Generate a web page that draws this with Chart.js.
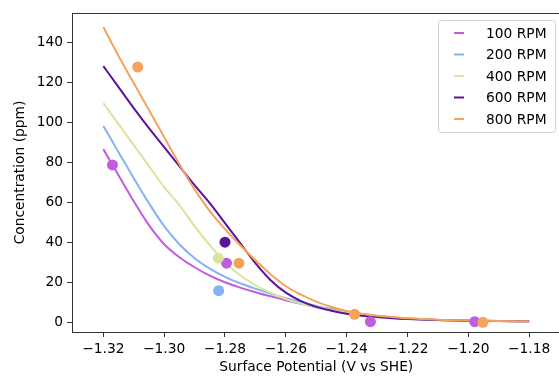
<!DOCTYPE html>
<html>
<head>
<meta charset="utf-8">
<script src="https://cdn.jsdelivr.net/npm/chart.js@4.4.1/dist/chart.umd.min.js"></script>
<style>
html, body { margin: 0; padding: 0; background: #fff; overflow: hidden; }
#wrap { width: 559px; height: 378px; overflow: hidden; }
canvas { display: block; }
</style>
</head>
<body>
<div id="wrap"><canvas id="chart" width="566" height="378"></canvas></div>
<script>
// Fitted curves (surface potential in V vs SHE)
const potentials = [-1.32, -1.315, -1.31, -1.305, -1.30, -1.295, -1.29, -1.285, -1.28, -1.275,
    -1.27, -1.265, -1.26, -1.255, -1.25, -1.245, -1.24, -1.235, -1.23, -1.225,
    -1.22, -1.21, -1.20, -1.19, -1.18];

const fit100 = [86.5, 73.5, 60.5, 48.5, 39, 32.5, 27.5, 23.3, 20, 17.3,
    15, 13, 11, 9.2, 7.5, 5.9, 4.7, 3.8, 3, 2.3, 1.8, 1.2, 0.8, 0.6, 0.5];
const fit200 = [98, 85, 72, 59.5, 48, 39, 32, 26.8, 22.7, 19.5,
    16.8, 14.3, 12, 10, 8.2, 6.6, 5.2, 4.1, 3.2, 2.5, 1.9, 1.2, 0.8, 0.6, 0.5];
const fit400 = [109.5, 99, 88.5, 78, 67.5, 58.5, 48, 38.5, 30, 23.5,
    18.5, 14.8, 11.6, 9.3, 7.5, 6, 4.8, 3.8, 3, 2.3, 1.8, 1.2, 0.8, 0.6, 0.5];
const fit600 = [128, 117.5, 107, 97, 87.5, 78, 68.5, 59.5, 49.5, 39.5,
    29.5, 21, 14.8, 10.6, 7.7, 5.8, 4.3, 3.3, 2.6, 2.0, 1.6, 1.1, 0.8, 0.6, 0.5];
const fit800 = [147.5, 133, 119.5, 106, 92.5, 79, 66.5, 55.5, 46.5, 38.5,
    31, 24, 18, 13.8, 10.3, 7.6, 5.6, 4.3, 3.3, 2.6, 2.0, 1.3, 0.9, 0.6, 0.5];

// Measured points
const meas100x = [-1.317, -1.2795, -1.2322, -1.1979];
const meas100y = [78.6, 29.5, 0.3, 0.3];
const meas200x = [-1.2821];
const meas200y = [15.8];
const meas400x = [-1.2822];
const meas400y = [32];
const meas600x = [-1.28];
const meas600y = [40];
const meas800x = [-1.3087, -1.2754, -1.2374, -1.1952];
const meas800y = [127.5, 29.5, 4, 0];

const seriesLabels = ['100 RPM', '200 RPM', '400 RPM', '600 RPM', '800 RPM'];
const seriesColors = ['#c25be0', '#84b2f2', '#d9e59a', '#5b129e', '#f5a35a'];

const xTicks = [-1.32, -1.30, -1.28, -1.26, -1.24, -1.22, -1.20, -1.18];
const yTicks = [0, 20, 40, 60, 80, 100, 120, 140];

const fits = [fit100, fit200, fit400, fit600, fit800];
const measX = [meas100x, meas200x, meas400x, meas600x, meas800x];
const measY = [meas100y, meas200y, meas400y, meas600y, meas800y];

const FONT = 'DejaVu Sans';
const minus = (v) => String(v).replace('-', '\u2212');

const lineSets = fits.map((ys, i) => ({
    label: seriesLabels[i],
    data: potentials.map((x, k) => ({ x, y: ys[k] })),
    borderColor: seriesColors[i],
    backgroundColor: seriesColors[i],
    borderWidth: 2,
    pointRadius: 0,
    cubicInterpolationMode: 'monotone',
    order: 10 - i,
    isFit: true,
}));

const dotSets = measX.map((xs, i) => ({
    label: seriesLabels[i] + ' data',
    data: xs.map((x, k) => ({ x, y: measY[i][k] })),
    showLine: false,
    pointRadius: 5.5,
    pointBorderWidth: 0,
    pointBackgroundColor: seriesColors[i],
    borderColor: seriesColors[i],
    order: 5 - i,
}));

// Top spine + boxed legend (matplotlib style)
const frameLegend = {
    id: 'frameLegend',
    afterDraw(chart) {
        const { ctx, chartArea } = chart;
        ctx.save();
        ctx.strokeStyle = '#333';
        ctx.lineWidth = 1;
        ctx.beginPath();
        ctx.moveTo(chartArea.left, chartArea.top + 0.5);
        ctx.lineTo(chartArea.right, chartArea.top + 0.5);
        ctx.stroke();

        const bx = 438.5, by = 20.5, bw = 117, bh = 112, r = 3;
        ctx.fillStyle = 'rgba(255,255,255,0.8)';
        ctx.strokeStyle = '#d0d0d0';
        ctx.beginPath();
        ctx.roundRect(bx, by, bw, bh, r);
        ctx.fill();
        ctx.stroke();

        ctx.font = '13.8px "' + FONT + '"';
        ctx.textBaseline = 'middle';
        ctx.fillStyle = '#000';
        chart.data.datasets.filter(d => d.isFit).forEach((d, i) => {
            const y = 33 + i * 21.5;
            ctx.strokeStyle = d.borderColor;
            ctx.lineWidth = 2;
            ctx.beginPath();
            ctx.moveTo(454, y);
            ctx.lineTo(464, y);
            ctx.stroke();
            ctx.fillText(d.label, 486, y + 1);
        });
        ctx.restore();
    },
};

new Chart(document.getElementById('chart'), {
    type: 'line',
    data: { datasets: [...dotSets, ...lineSets] },
    options: {
        responsive: false,
        devicePixelRatio: 1,
        animation: false,
        layout: { padding: { top: 13, right: 1, left: 0, bottom: 0 } },
        plugins: {
            legend: { display: false },
            tooltip: { enabled: false },
        },
        scales: {
            x: {
                type: 'linear',
                min: -1.3303,
                max: -1.1697,
                afterBuildTicks: (s) => { s.ticks = xTicks.map(v => ({ value: v })); },
                afterFit: (s) => { s.height = 46; },
                ticks: {
                    color: '#000',
                    padding: 4,
                    maxRotation: 0,
                    font: { family: FONT, size: 13.8 },
                    callback: (v) => minus(v.toFixed(2)),
                },
                grid: { drawOnChartArea: false, tickLength: 5, color: '#333' },
                border: { color: '#333', width: 1 },
                title: {
                    display: true,
                    text: 'Surface Potential (V vs SHE)',
                    color: '#000',
                    font: { family: FONT, size: 13.8 },
                    padding: { top: 0, bottom: 2 },
                },
            },
            y: {
                type: 'linear',
                min: -4.85,
                max: 154.5,
                afterBuildTicks: (s) => { s.ticks = yTicks.map(v => ({ value: v })); },
                afterFit: (s) => { s.width = 72; },
                ticks: {
                    color: '#000',
                    padding: 4,
                    font: { family: FONT, size: 13.8 },
                    callback: (v) => String(v),
                },
                grid: { drawOnChartArea: false, tickLength: 5, color: '#333' },
                border: { color: '#333', width: 1 },
                title: {
                    display: true,
                    text: 'Concentration (ppm)',
                    color: '#000',
                    font: { family: FONT, size: 13.8 },
                    padding: { top: 12, bottom: 0 },
                },
            },
        },
    },
    plugins: [frameLegend],
});
</script>
</body>
</html>
